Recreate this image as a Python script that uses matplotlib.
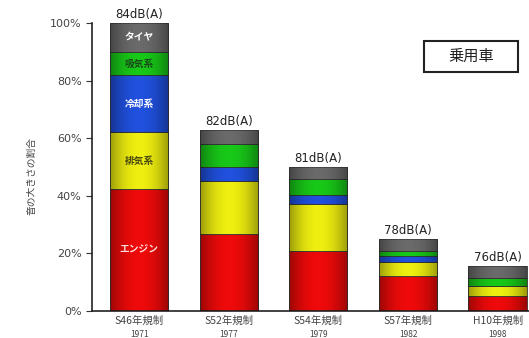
import numpy as np
import matplotlib.pyplot as plt
from matplotlib.patches import Rectangle

plt.rcParams["font.family"] = ["Noto Sans CJK JP", "DejaVu Sans"]

regulations = ["S46年規制", "S52年規制", "S54年規制", "S57年規制", "H10年規制"]
years = ["1971", "1977", "1979", "1982", "1998"]
levels = ["84dB(A)", "82dB(A)", "81dB(A)", "78dB(A)", "76dB(A)"]

# share of sound level (%) per source, bottom to top
engine = [42.4, 26.7, 21.0, 12.0, 5.2]
exhaust = [19.6, 18.3, 16.0, 5.0, 3.5]
cooling = [20.0, 5.0, 3.3, 2.0, 0.0]
intake = [8.0, 8.0, 5.7, 2.0, 2.8]
tire = [10.0, 5.0, 4.0, 4.0, 4.1]

sources = ["エンジン", "排気系", "冷却系", "吸気系", "タイヤ"]
series = [engine, exhaust, cooling, intake, tire]
colors = ["#ee0a0a", "#eeee10", "#2050dd", "#18c818", "#6a6a6a"]
text_colors = ["#ffe0e0", "#4a4a10", "#ffffff", "#1a4a1a", "#ffffff"]

fig = plt.figure(figsize=(5.29, 3.38), dpi=100)
ax = fig.add_axes([92 / 529, 27 / 338, 437 / 529, 288 / 338])

x = np.arange(len(regulations))
width = 0.65
# darker toward the bar edges, like a cylinder
shade = np.abs(np.linspace(-1, 1, 64)) ** 2
grad = np.zeros((1, 64, 4))
grad[..., 3] = shade * 0.35

bottom = np.zeros(len(x))
for vals, col in zip(series, colors):
    vals = np.array(vals)
    bars = ax.bar(x, vals, width, bottom=bottom, color=col,
                  edgecolor="#333333", linewidth=0.6, zorder=2)
    for b in bars:
        if b.get_height() <= 0:
            continue
        im = ax.imshow(grad, extent=(b.get_x(), b.get_x() + b.get_width(),
                                     b.get_y(), b.get_y() + b.get_height()),
                       aspect="auto", zorder=3, interpolation="bilinear")
        im.set_clip_path(b)
    bottom += vals

# labels inside first bar
b0 = 0
for vals, name, tc in zip(series, sources, text_colors):
    ax.text(x[0], b0 + vals[0] / 2, name, ha="center", va="center",
            color=tc, fontsize=7, fontweight="bold", zorder=4)
    b0 += vals[0]

for xi, tot, lab in zip(x, bottom, levels):
    ax.text(xi, tot + 0.6, lab, ha="center", va="bottom", fontsize=8.5,
            color="#222222", family=["DejaVu Sans"])

ax.set_xlim(-0.525, 4.35)
ax.set_ylim(0, 100)
ax.set_yticks([0, 20, 40, 60, 80, 100])
ax.set_yticklabels(["0%", "20%", "40%", "60%", "80%", "100%"],
                   family=["DejaVu Sans"])
ax.tick_params(axis="y", labelsize=8, color="#333333", labelcolor="#444444",
               length=4, width=0.8)
ax.set_xticks(x)
ax.set_xticklabels([""] * len(x))
ax.tick_params(axis="x", length=0)
for xi, reg, yr in zip(x, regulations, years):
    ax.text(xi, -1.5, reg, ha="center", va="top", fontsize=7.5,
            color="#444444", clip_on=False)
    ax.text(xi, -6.5, yr, ha="center", va="top", fontsize=6,
            color="#444444", clip_on=False)

for side in ["top", "right"]:
    ax.spines[side].set_visible(False)
for side in ["left", "bottom"]:
    ax.spines[side].set_linewidth(1.2)
    ax.spines[side].set_color("#222222")

fig.text(31 / 529, 165 / 338 - 0.01, "音の大きさの割合", rotation=90,
         ha="center", va="center", fontsize=7, color="#444444")

fig.patches.append(Rectangle((424 / 529, 1 - 72 / 338), 94 / 529, 31 / 338,
                             transform=fig.transFigure, facecolor="white",
                             edgecolor="#222222", linewidth=1.5))
fig.text(471 / 529, 1 - 56.5 / 338, "乗用車", ha="center", va="center",
         fontsize=11, color="#222222")

fig.savefig("out.png", dpi=100)
